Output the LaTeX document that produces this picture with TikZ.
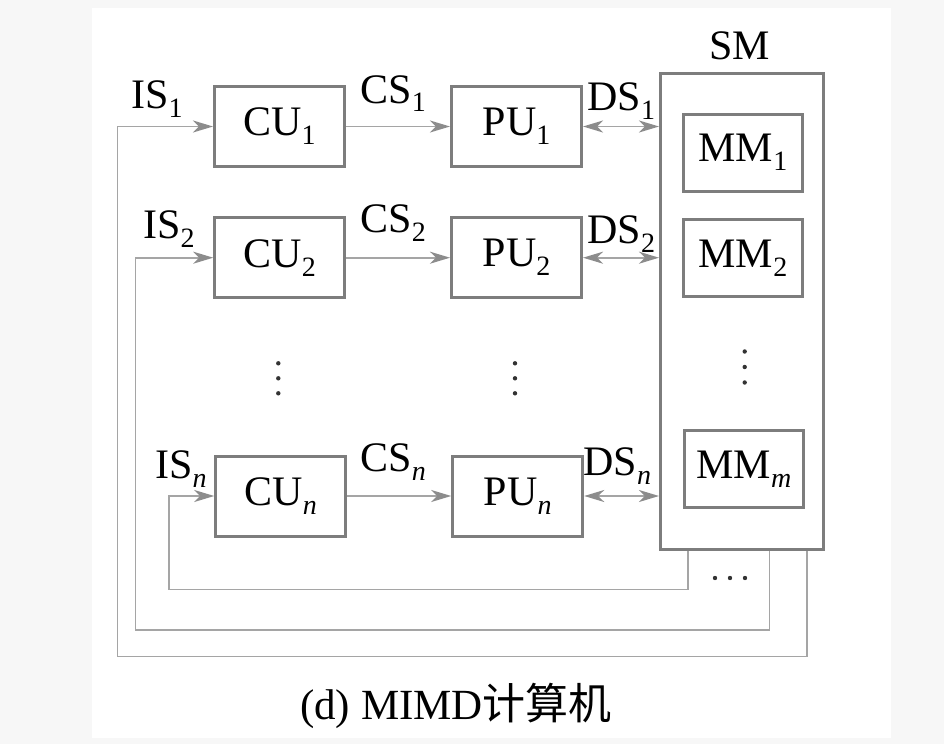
\documentclass[tikz,border=0pt]{standalone}
\usepackage{fontspec}
\setmainfont{Liberation Serif}
\newfontfamily\cjk{Noto Sans CJK SC}
\usetikzlibrary{arrows.meta}
\definecolor{boxgray}{RGB}{125,125,125}
\definecolor{linegray}{RGB}{165,165,165}
\definecolor{headgray}{RGB}{140,140,140}
\definecolor{bggray}{RGB}{247,247,247}
\newcommand\sbs[1]{\raisebox{-4.5pt}{\fontsize{14}{14}\selectfont #1}}
\begin{document}
\begin{tikzpicture}[x=0.5pt,y=-0.5pt,
  unitbox/.style={draw=boxgray,line width=1.5pt,inner sep=0pt,minimum width=65pt,minimum height=40pt,font=\fontsize{21}{24}\selectfont},
  mmbox/.style={draw=boxgray,line width=1.5pt,inner sep=0pt,minimum width=59.5pt,minimum height=38.5pt,font=\fontsize{21}{24}\selectfont},
  smbox/.style={draw=boxgray,line width=1.5pt,inner sep=0pt,minimum width=81.5pt,minimum height=238pt},
  lab/.style={anchor=base west,inner sep=0pt,font=\fontsize{21}{24}\selectfont},
  conn/.style={draw=linegray,line width=0.9pt},
  arr/.style={conn,-{Stealth[length=10pt,width=6pt,inset=3pt,color=headgray]}},
  darr/.style={conn,{Stealth[length=10pt,width=6pt,inset=3pt,color=headgray]}-{Stealth[length=10pt,width=6pt,inset=3pt,color=headgray]}},
  dotfill/.style={fill=black!80}
]
% background
\fill[bggray] (0,0) rectangle (944,744);
\fill[white] (92,8) rectangle (891,738);
\useasboundingbox (0,0) rectangle (944,744);

% shared memory
\node[smbox] (SM) at (742,311.6) {};
\node[anchor=base west,inner sep=0pt,font=\fontsize{21}{24}\selectfont] (SMl) at (709,60) {SM};
\node[mmbox] (MM1) at (743,152.6) {MM\sbs{1}};
\node[mmbox] (MM2) at (743,258) {MM\sbs{2}};
\node[mmbox] (MMm) at (744,469.4) {MM\sbs{\textit{m}}};

% units
\node[unitbox] (CU1) at (279.5,126.5) {CU\sbs{1}};
\node[unitbox] (PU1) at (516.5,126.5) {PU\sbs{1}};
\node[unitbox] (CU2) at (279.7,257.7) {CU\sbs{2}};
\node[unitbox] (PU2) at (516.5,257.7) {PU\sbs{2}};
\node[unitbox] (CUn) at (280.7,496) {CU\sbs{\textit{n}}};
\node[unitbox] (PUn) at (517.7,496) {PU\sbs{\textit{n}}};

% labels
\node[lab] (IS1) at (131,108) {IS\sbs{1}};
\node[lab] (CS1) at (360,103) {CS\sbs{1}};
\node[lab] (DS1) at (587,111) {DS\sbs{1}};
\node[lab] (IS2) at (143,238) {IS\sbs{2}};
\node[lab] (CS2) at (360,232) {CS\sbs{2}};
\node[lab] (DS2) at (587,243) {DS\sbs{2}};
\node[lab] (ISn) at (155,478) {IS\sbs{\textit{n}}};
\node[lab] (CSn) at (360,471) {CS\sbs{\textit{n}}};
\node[lab] (DSn) at (583,475) {DS\sbs{\textit{n}}};

% CU -> PU
\draw[arr] (CU1) -- (PU1);
\draw[arr] (CU2) -- (PU2);
\draw[arr] (CUn) -- (PUn);

% PU <-> SM
\draw[darr] (PU1.east) -- (PU1.east -| SM.west);
\draw[darr] (PU2.east) -- (PU2.east -| SM.west);
\draw[darr] (PUn.east) -- (PUn.east -| SM.west);

% feedback loops
\coordinate (r1) at (806.7,656.4);
\coordinate (l1) at (117.4,656.4);
\coordinate (r2) at (769.4,629.8);
\coordinate (l2) at (135.5,629.8);
\coordinate (rn) at (688.2,589.5);
\coordinate (ln) at (168.6,589.5);
\draw[arr] (SM.south -| r1) -- (r1) -- (l1) |- (CU1.west);
\draw[arr] (SM.south -| r2) -- (r2) -- (l2) |- (CU2.west);
\draw[arr] (SM.south -| rn) -- (rn) -- (ln) |- (CUn.west);

% dots
\foreach \y in {363.3,378.3,393.3} {
  \fill[dotfill] (278.3,\y) circle (1.1pt);
  \fill[dotfill] (515,\y) circle (1.1pt);
}
\foreach \y in {351.5,367,382.5} {
  \fill[dotfill] (744.7,\y) circle (1.1pt);
}
\foreach \x in {715,730,745} {
  \fill[dotfill] (\x,578) circle (1.1pt);
}

% caption
\node[anchor=base,inner sep=0pt,font=\fontsize{21.5}{24}\selectfont] (cap) at (456,719) {(d) MIMD{\cjk 计算机}};
\end{tikzpicture}
\end{document}
